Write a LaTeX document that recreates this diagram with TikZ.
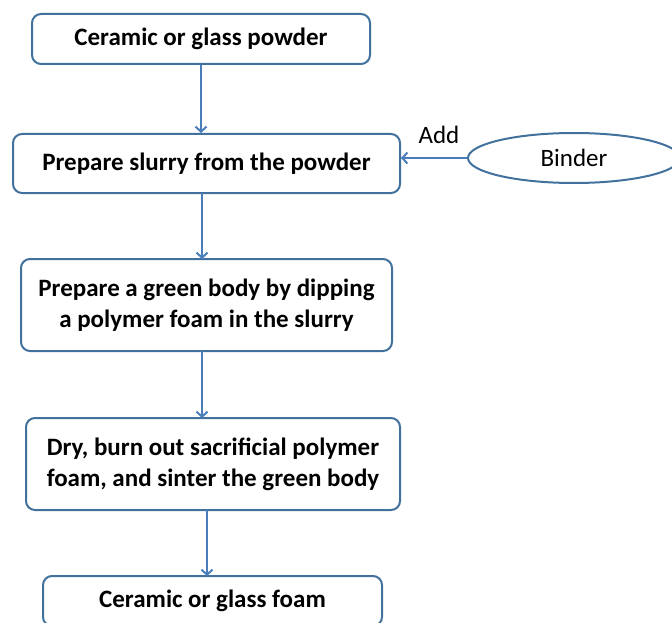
\documentclass[tikz,border=0pt]{standalone}
\usepackage{fontspec}
\setmainfont{Carlito}
\usetikzlibrary{shapes.geometric,arrows.meta}
\definecolor{boxblue}{HTML}{41719C}
\definecolor{arrblue}{HTML}{4A7EBB}
\tikzset{
  stepbox/.style={draw=boxblue, line width=2pt, rounded corners=9pt, fill=white, inner sep=0pt, align=center, font=\bfseries\fontsize{25}{31}\selectfont},
  flow/.style={draw=arrblue, line width=2pt, -{Straight Barb[length=5pt,width=11pt]}},
  lbl/.style={font=\fontsize{25}{30}\selectfont},
}
\begin{document}
\begin{tikzpicture}[x=1pt,y=-1pt]
\useasboundingbox (0,0) rectangle (672,623);
\clip (0,0) rectangle (672,623);
\node[stepbox, minimum width=338pt, minimum height=50pt] (b1) at (201,39) {Ceramic or glass powder};
\node[stepbox, minimum width=387pt, minimum height=59pt] (b2) at (206.5,163.5) {Prepare slurry from the powder};
\node[stepbox, minimum width=371pt, minimum height=92pt] (b3) at (206.5,305) {Prepare a green body by dipping\\a polymer foam in the slurry};
\node[stepbox, minimum width=374pt, minimum height=92pt] (b4) at (213,464) {Dry, burn out sacrificial polymer\\foam, and sinter the green body};
\node[stepbox, minimum width=339pt, minimum height=50pt] (b5) at (212.5,601) {Ceramic or glass foam};
\node[ellipse, draw=boxblue, line width=2pt, minimum width=212pt, minimum height=50pt, inner sep=0pt, lbl] (bind) at (574,158) {Binder};
\draw[flow] (b1.south) -- (b1.south |- b2.north);
\draw[flow] (202,193) -- (202,259);
\draw[flow] (202,351) -- (202,418);
\draw[flow] (207,510) -- (207,576);
\draw[flow] (bind.west) -- node[above, lbl, yshift=10pt, xshift=5pt] (add) {Add} (b2.east |- bind.west);
\end{tikzpicture}
\end{document}
